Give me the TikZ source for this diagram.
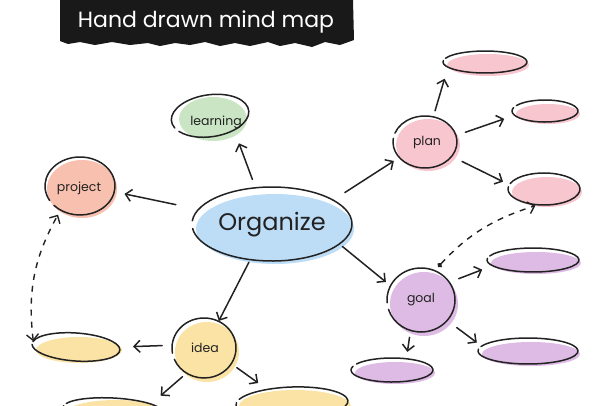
\documentclass[tikz,border=0pt]{standalone}
\usepackage{fontspec}
\setmainfont{Poppins}
\usetikzlibrary{arrows.meta,shapes.geometric,backgrounds,calc}
\definecolor{ink}{HTML}{222222}
\definecolor{cgreen}{HTML}{C9E5C3}
\definecolor{csalmon}{HTML}{F8C0AE}
\definecolor{cblue}{HTML}{BDDCF5}
\definecolor{cpink}{HTML}{F8C6CF}
\definecolor{cpurple}{HTML}{DDBBE5}
\definecolor{cyellow}{HTML}{FAE3A5}
% #1 rotation, #2 node, #3 rx, #4 ry, #5 start angle, #6 shift
\newcommand\handring[6][0]{%
  \draw[sketch, rotate around={#1:(#2.center)}] ([shift={#6}]#2.center) ++(#5:#3 and #4)
    arc[start angle=#5, delta angle=348, x radius=#3, y radius=#4];}
% #1 node, #2 colour, #3 rx, #4 ry, #5 shift
\newcommand\handfill[5]{%
  \fill[#2] ([shift={#5}]#1.center) ellipse[x radius=#3, y radius=#4];}
\tikzset{
  lbl/.style={ellipse, inner sep=0pt, outer sep=0pt, text=ink, font=\fontsize{12.5}{14}\selectfont},
  leaf/.style={ellipse, inner sep=0pt, outer sep=0pt},
  sketch/.style={draw=ink, line width=1.5pt, line cap=round, line join=round},
  conn/.style={draw=ink, line width=1.5pt, line cap=round, -{Straight Barb[length=6pt,width=12pt]}},
  dlink/.style={draw=ink, line width=1.4pt, dash pattern=on 6pt off 6pt},
  banner/.style={fill=black!90},
  titletext/.style={text=white, font=\fontsize{22}{26}\selectfont},
}
\begin{document}
\begin{tikzpicture}[x=1pt,y=-1pt]
\useasboundingbox (0,0) rectangle (610,405);
\clip (0,0) rectangle (610,405);
% title banner
\fill[banner] (60,0) -- (353,0) -- (354,40) -- (340,45) -- (325,42) -- (312,47) -- (295,43) -- (280,46)
  -- (268,42) -- (250,46) -- (235,43) -- (220,46) -- (205,42) -- (190,45) -- (175,43) -- (160,46)
  -- (148,43) -- (130,45) -- (112,42) -- (95,45) -- (80,42) -- (68,44) -- (60,41) -- cycle;
\node[titletext] (title) at (206,22) {Hand drawn mind map};
% main nodes
\node[lbl, minimum width=76pt, minimum height=40pt] (learning) at (216,122) {learning};
\node[lbl, minimum width=70pt, minimum height=58pt] (project) at (79,188) {project};
\node[lbl, minimum width=160pt, minimum height=74pt, font=\fontsize{24}{28}\selectfont] (org) at (272,225) {Organize};
\node[lbl, minimum width=64pt, minimum height=52pt] (plan) at (427,142) {plan};
\node[lbl, minimum width=68pt, minimum height=64pt] (goal) at (421,300) {goal};
\node[lbl, minimum width=64pt, minimum height=60pt] (idea) at (205,348) {idea};
% leaves
\node[leaf, minimum width=84pt, minimum height=22pt] (p1) at (485,62) {};
\node[leaf, minimum width=66pt, minimum height=22pt] (p2) at (545,111) {};
\node[leaf, minimum width=72pt, minimum height=32pt] (p3) at (544,189) {};
\node[leaf, minimum width=92pt, minimum height=24pt] (g1) at (533,260) {};
\node[leaf, minimum width=100pt, minimum height=26pt] (g2) at (528,351) {};
\node[leaf, minimum width=82pt, minimum height=24pt] (g3) at (392,370) {};
\node[leaf, minimum width=88pt, minimum height=28pt] (i1) at (76,347) {};
\node[leaf, minimum width=100pt, minimum height=26pt] (i2) at (113,410) {};
\node[leaf, minimum width=112pt, minimum height=32pt] (i3) at (292,403) {};
% fills
\begin{scope}[on background layer]
  \handfill{learning}{cgreen}{34}{22}{(-3,-3)}
  \handfill{project}{csalmon}{35}{29}{(3,1)}
  \handfill{org}{cblue}{79}{35}{(3,4)}
  \handfill{plan}{cpink}{32}{26}{(1,3)}
  \handfill{goal}{cpurple}{34}{32}{(3,4)}
  \handfill{idea}{cyellow}{32}{30}{(2,4)}
  \handfill{p1}{cpink}{41}{11}{(3,3)}
  \handfill{p2}{cpink}{32}{10}{(3,3)}
  \handfill{p3}{cpink}{35}{15}{(3,3)}
  \handfill{g1}{cpurple}{45}{11}{(3,3)}
  \handfill{g2}{cpurple}{49}{12}{(3,3)}
  \handfill{g3}{cpurple}{40}{11}{(3,3)}
  \handfill{i1}{cyellow}{43}{13}{(3,3)}
  \handfill{i2}{cyellow}{50}{13}{(3,3)}
  \handfill{i3}{cyellow}{56}{16}{(3,3)}
\end{scope}
% outlines
\handring[8]{learning}{39}{21}{160}{(-5,-7)}
\handring{project}{35}{29}{150}{(1,-2)}
\handring{org}{80}{37}{185}{(0,-1)}
\handring{plan}{32}{26}{200}{(-2,0)}
\handring{goal}{34}{32}{175}{(0,0)}
\handring{idea}{32}{30}{170}{(-1,0)}
\handring{p1}{42}{11}{200}{(0,0)}
\handring{p2}{33}{11}{210}{(0,0)}
\handring{p3}{36}{16}{200}{(0,0)}
\handring{g1}{46}{12}{200}{(0,0)}
\handring{g2}{50}{13}{200}{(0,0)}
\handring{g3}{41}{12}{210}{(0,0)}
\handring[-4]{i1}{44}{14}{190}{(0,0)}
\handring[-3]{i2}{50}{12}{200}{(0,0)}
\handring[2]{i3}{56}{16}{200}{(0,0)}
% connectors
\draw[conn, shorten <=10pt, shorten >=5pt] (org.114) -- (learning.-38);
\draw[conn, shorten <=24pt, shorten >=11pt] (org.168) -- (project.-6);
\draw[conn, shorten <=15pt, shorten >=8pt] (org.22) -- (plan.209);
\draw[conn, shorten <=3pt, shorten >=6pt] (org.-16) -- (goal.155);
\draw[conn, shorten <=2pt] (org.238) -- (idea.63);
\draw[conn, shorten <=6pt, shorten >=12pt] (plan.76) -- (p1.188);
\draw[conn, shorten <=8pt, shorten >=11pt] (plan.13) -- (p2.188);
\draw[conn, shorten <=10pt, shorten >=7pt] (plan.-30) -- (p3.173);
\draw[conn, shorten <=10pt, shorten >=11pt] (goal.32) -- (g1.188);
\draw[conn, shorten <=12pt, shorten >=6pt] (goal.-38) -- (g2.174);
\draw[conn, shorten <=7pt, shorten >=7pt] (goal.251) -- (g3.38);
\draw[conn, shorten <=11pt, shorten >=13pt] (idea.175) -- (i1.0);
\draw[conn, shorten <=6pt, shorten >=10pt] (idea.234) -- (i2.11);
\draw[conn, shorten <=6pt, shorten >=10pt] (idea.-31) -- (i3.151);
% dashed links
\draw[dlink, {Circle[length=5pt]}-{Straight Barb[length=6pt,width=12pt]}, shorten <=5pt, shorten >=3pt]
  (goal.65) to[bend left=15] (p3.250);
\draw[dlink, {Straight Barb[length=6pt,width=12pt]}-{Straight Barb[length=6pt,width=12pt]}, shorten <=2pt, shorten >=3pt]
  (i1.175) to[bend left=18] (project.231);
\end{tikzpicture}
\end{document}
